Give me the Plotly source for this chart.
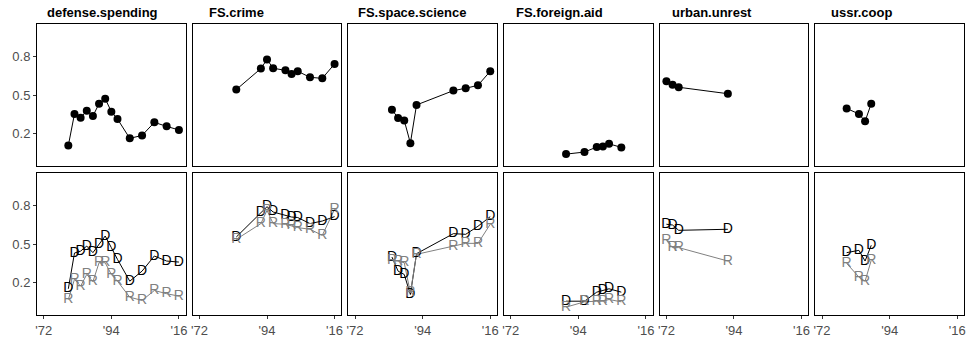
import plotly.graph_objects as go

# Issue labels (one column of panels each)
issues = ["defense.spending", "FS.crime", "FS.space.science",
          "FS.foreign.aid", "urban.unrest", "ussr.coop"]

# Survey years per issue
years_defense = [1980, 1982, 1984, 1986, 1988, 1990, 1992, 1994, 1996, 2000, 2004, 2008, 2012, 2016]
years_crime = [1984, 1992, 1994, 1996, 2000, 2002, 2004, 2008, 2012, 2016]
years_space = [1984, 1986, 1988, 1990, 1992, 2004, 2008, 2012, 2016]
years_aid = [1990, 1996, 2000, 2002, 2004, 2008]
years_urban = [1972, 1974, 1976, 1992]
years_ussr = [1980, 1984, 1986, 1988]

# Overall share (top row)
all_defense = [0.109, 0.353, 0.324, 0.378, 0.337, 0.433, 0.471, 0.371, 0.314, 0.164, 0.187, 0.288, 0.257, 0.229]
all_crime = [0.542, 0.705, 0.775, 0.707, 0.691, 0.663, 0.684, 0.637, 0.629, 0.741]
all_space = [0.386, 0.322, 0.303, 0.127, 0.423, 0.534, 0.552, 0.575, 0.684]
all_aid = [0.042, 0.058, 0.097, 0.102, 0.122, 0.094]
all_urban = [0.606, 0.58, 0.56, 0.51]
all_ussr = [0.396, 0.353, 0.296, 0.433]

# Democrats (bottom row, "D")
dem_defense = [0.153, 0.43, 0.445, 0.484, 0.433, 0.497, 0.562, 0.472, 0.381, 0.212, 0.29, 0.407, 0.368, 0.36]
dem_crime = [0.554, 0.743, 0.789, 0.748, 0.722, 0.709, 0.705, 0.658, 0.678, 0.712]
dem_space = [0.399, 0.29, 0.264, 0.109, 0.425, 0.58, 0.575, 0.637, 0.712]
dem_aid = [0.057, 0.057, 0.127, 0.14, 0.153, 0.127]
dem_urban = [0.653, 0.647, 0.606, 0.614]
dem_ussr = [0.433, 0.451, 0.368, 0.49]

# Republicans (bottom row, "R")
rep_defense = [0.07, 0.226, 0.174, 0.264, 0.208, 0.355, 0.355, 0.264, 0.212, 0.088, 0.063, 0.14, 0.115, 0.096]
rep_crime = [0.536, 0.658, 0.76, 0.658, 0.653, 0.64, 0.627, 0.614, 0.567, 0.769]
rep_space = [0.373, 0.368, 0.355, 0.122, 0.42, 0.484, 0.505, 0.505, 0.653]
rep_aid = [0.011, 0.052, 0.057, 0.057, 0.07, 0.052]
rep_urban = [0.528, 0.472, 0.472, 0.368]
rep_ussr = [0.35, 0.244, 0.212, 0.373]

years = [years_defense, years_crime, years_space, years_aid, years_urban, years_ussr]
overall = [all_defense, all_crime, all_space, all_aid, all_urban, all_ussr]
dems = [dem_defense, dem_crime, dem_space, dem_aid, dem_urban, dem_ussr]
reps = [rep_defense, rep_crime, rep_space, rep_aid, rep_urban, rep_ussr]

x_tickvals = [1972, 1994, 2016]
x_ticktext = ["'72", "'94", "'16"]
y_tickvals = [0.2, 0.5, 0.8]
y_ticktext = ["0.2", "0.5", "0.8"]

W, H = 969, 343
ML, MR, MT, MB = 37, 3, 24, 28
PW = W - ML - MR          # plotting width
PH = H - MT - MB          # plotting height
panel_w, gap = 149, 7
row_h = 142

FONT = "Liberation Sans, Arial, sans-serif"
GREY = "#808080"
TICK_GREY = "#4D4D4D"

fig = go.Figure()
layout = {}

for col in range(6):
    x0 = col * (panel_w + gap) / PW
    x1 = (col * (panel_w + gap) + panel_w) / PW
    for row in range(2):
        idx = row * 6 + col + 1
        xname = "xaxis" if idx == 1 else f"xaxis{idx}"
        yname = "yaxis" if idx == 1 else f"yaxis{idx}"
        xref = "x" if idx == 1 else f"x{idx}"
        yref = "y" if idx == 1 else f"y{idx}"
        if row == 0:
            ydom = [(PH - row_h) / PH, 1.0]
        else:
            ydom = [0.0, row_h / PH]
        layout[xname] = dict(
            domain=[x0, x1], anchor=yref, range=[1969.8, 2018.2],
            showgrid=False, zeroline=False, showline=True, mirror=True,
            linecolor="black", linewidth=1,
            tickvals=x_tickvals, ticktext=x_ticktext,
            ticks="outside" if row == 1 else "", ticklen=3,
            tickcolor="#333333", showticklabels=(row == 1),
            tickfont=dict(family=FONT, size=13, color=TICK_GREY),
        )
        layout[yname] = dict(
            domain=ydom, anchor=xref, range=[-0.05, 1.05],
            showgrid=False, zeroline=False, showline=True, mirror=True,
            linecolor="black", linewidth=1,
            tickvals=y_tickvals, ticktext=y_ticktext,
            ticks="outside" if col == 0 else "", ticklen=3,
            tickcolor="#333333", showticklabels=(col == 0),
            tickfont=dict(family=FONT, size=13, color=TICK_GREY),
        )

        if row == 0:
            fig.add_trace(go.Scatter(
                x=years[col], y=overall[col], mode="lines+markers",
                line=dict(color="black", width=1),
                marker=dict(color="black", size=8),
                xaxis=xref, yaxis=yref, showlegend=False))
        else:
            # lines first, letters on top
            fig.add_trace(go.Scatter(
                x=years[col], y=dems[col], mode="lines",
                line=dict(color="black", width=1),
                xaxis=xref, yaxis=yref, showlegend=False))
            fig.add_trace(go.Scatter(
                x=years[col], y=reps[col], mode="lines",
                line=dict(color=GREY, width=1),
                xaxis=xref, yaxis=yref, showlegend=False))
            fig.add_trace(go.Scatter(
                x=years[col], y=dems[col], mode="text",
                text=["D"] * len(dems[col]), textposition="middle center",
                textfont=dict(family=FONT, size=14, color="black"),
                xaxis=xref, yaxis=yref, showlegend=False))
            fig.add_trace(go.Scatter(
                x=years[col], y=reps[col], mode="text",
                text=["R"] * len(reps[col]), textposition="middle center",
                textfont=dict(family=FONT, size=14, color=GREY),
                xaxis=xref, yaxis=yref, showlegend=False))

# Panel titles
title_px = [45, 207.7, 356.7, 515, 671.7, 830.7]
annotations = []
for name, px in zip(issues, title_px):
    annotations.append(dict(
        text=f"<b>{name}</b>", xref="paper", yref="paper",
        x=(px - ML) / PW, y=(PH + MT - 12.5 - MT) / PH + (MT - 12.5) / PH * 0,
        xanchor="left", yanchor="middle", showarrow=False,
        font=dict(family=FONT, size=13, color="black")))
for a in annotations:
    a["y"] = 1 + (MT - 12.5) / PH

fig.update_layout(
    **layout,
    annotations=annotations,
    width=W, height=H,
    margin=dict(l=ML, r=MR, t=MT, b=MB),
    paper_bgcolor="white", plot_bgcolor="white",
    showlegend=False,
)

fig.write_html("out.html")
